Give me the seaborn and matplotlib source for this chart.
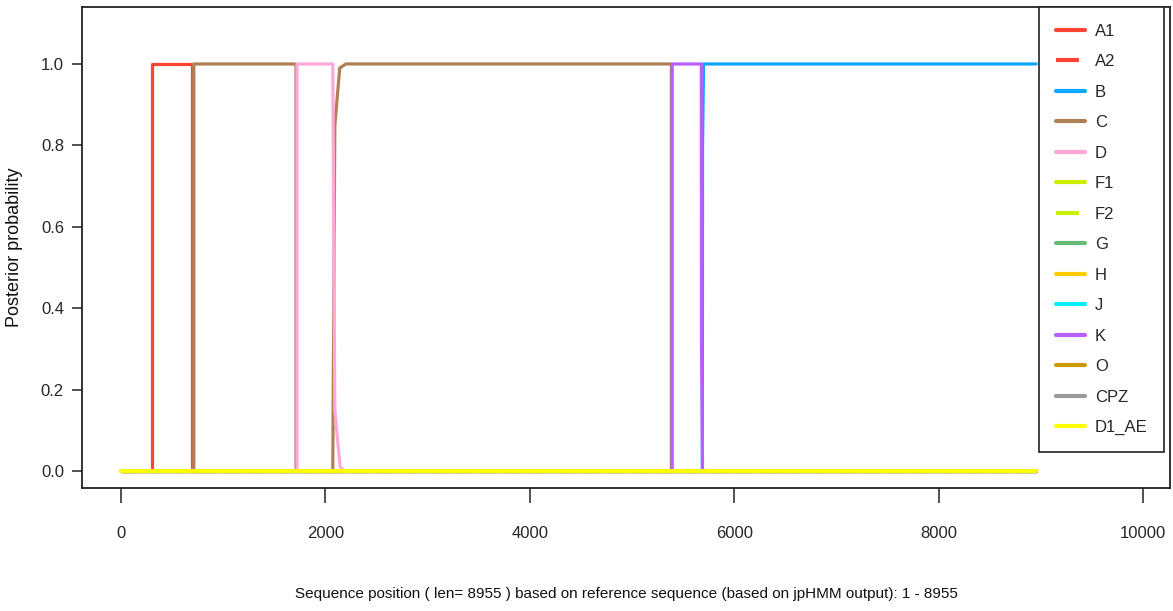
import matplotlib
matplotlib.use("Agg")
import matplotlib.pyplot as plt
import seaborn as sns
import pandas as pd

# ---- data (breakpoints of posterior probability per subtype) ----
seq_len = 8955
series_names = ["A1", "A2", "B", "C", "D", "F1", "F2", "G", "H", "J", "K", "O", "CPZ", "D1_AE"]

A1_x = [0, 305, 305, 690, 690, 8955]
A1_y = [0, 0, 1, 1, 0, 0]
A2_x = [0, 8955]
A2_y = [0, 0]
B_x = [0, 5688, 5690, 5700, 8955]
B_y = [0, 0, 0.8, 1, 1]
C_x = [0, 712, 712, 1712, 1712, 2072, 2076, 2092, 2140, 2200, 5385, 5385, 8955]
C_y = [0, 0, 1, 1, 0, 0, 0.18, 0.85, 0.99, 1, 1, 0, 0]
D_x = [0, 1722, 1722, 2072, 2092, 2143, 2190, 8955]
D_y = [0, 0, 1, 1, 0.15, 0.01, 0, 0]
F1_x = [0, 8955]
F1_y = [0, 0]
F2_x = [0, 8955]
F2_y = [0, 0]
G_x = [0, 8955]
G_y = [0, 0]
H_x = [0, 8955]
H_y = [0, 0]
J_x = [0, 8955]
J_y = [0, 0]
K_x = [0, 5393, 5393, 5678, 5680, 5690, 8955]
K_y = [0, 0, 1, 1, 0.3, 0, 0]
O_x = [0, 8955]
O_y = [0, 0]
CPZ_x = [0, 8955]
CPZ_y = [0, 0]
D1_AE_x = [0, 8955]
D1_AE_y = [0, 0]

x_ticks = [0, 2000, 4000, 6000, 8000, 10000]
y_ticks = [0.0, 0.2, 0.4, 0.6, 0.8, 1.0]

colors = {
    "A1": "#FF4433", "A2": "#FF4433", "B": "#0AA8FF", "C": "#B08055",
    "D": "#FFA8D8", "F1": "#CCEE00", "F2": "#CCEE00", "G": "#66BB77",
    "H": "#FFCC00", "J": "#00EEFF", "K": "#B560FF", "O": "#CC9900",
    "CPZ": "#999999", "D1_AE": "#FFFF00",
}
dashed = {"A2", "F2"}

data = {
    "A1": (A1_x, A1_y), "A2": (A2_x, A2_y), "B": (B_x, B_y), "C": (C_x, C_y),
    "D": (D_x, D_y), "F1": (F1_x, F1_y), "F2": (F2_x, F2_y), "G": (G_x, G_y),
    "H": (H_x, H_y), "J": (J_x, J_y), "K": (K_x, K_y), "O": (O_x, O_y),
    "CPZ": (CPZ_x, CPZ_y), "D1_AE": (D1_AE_x, D1_AE_y),
}

sns.set_theme(style="white")
fam = ["Liberation Sans Narrow", "Liberation Sans", "DejaVu Sans"]
plt.rcParams["font.family"] = fam

fig = plt.figure(figsize=(11.73, 6.11), dpi=100)
W, H = 1173, 611
left, right, top, bottom = 82, 1170, 7, 488
ax = fig.add_axes([left / W, 1 - bottom / H, (right - left) / W, (bottom - top) / H])

lw = 2.3
for name in series_names:
    xs, ys = data[name]
    df = pd.DataFrame({"pos": xs, "prob": ys})
    ls = (0, (5.5, 2.5)) if name in dashed else "-"
    sns.lineplot(data=df, x="pos", y="prob", ax=ax, estimator=None, sort=False,
                 color=colors[name], linewidth=(2.8 if name == "D1_AE" else lw),
                 linestyle=ls, label=name)

ax.set_xlim(-382, 10264)
ax.set_ylim(-0.042, 1.14)
ax.set_xticks(x_ticks)
ax.set_xticklabels([str(t) for t in x_ticks])
ax.set_yticks(y_ticks)
ax.set_yticklabels([f"{t:.1f}" for t in y_ticks])

for s in ax.spines.values():
    s.set_color("#222222")
    s.set_linewidth(1.3)

ax.tick_params(axis="x", which="major", direction="out", length=11, width=1.1,
               color="#222222", pad=16, labelsize=12, bottom=True)
ax.tick_params(axis="y", which="major", direction="out", length=7, width=1.1,
               color="#222222", pad=6, labelsize=12, left=True)

ax.set_xlabel("Sequence position ( len= 8955 ) based on reference sequence (based on jpHMM output): 1 - 8955",
              fontsize=11, color="#111111")
ax.set_ylabel("Posterior probability", fontsize=13, color="#111111")
ax.xaxis.set_label_coords(0.5, -0.205)
ax.yaxis.set_label_coords(-0.054, 0.5)

leg = ax.legend(loc="upper left", bbox_to_anchor=(1039 / W, 1 - 7 / H),
                bbox_transform=fig.transFigure, borderaxespad=0, frameon=True,
                fancybox=False, fontsize=12, labelspacing=0.93, handlelength=1.75,
                handletextpad=0.6, borderpad=1.0)
leg.get_frame().set_edgecolor("#222222")
leg.get_frame().set_linewidth(1.2)
leg.get_frame().set_alpha(1)
for line in leg.get_lines():
    line.set_linewidth(3)

fig.savefig("out.png", dpi=100)
